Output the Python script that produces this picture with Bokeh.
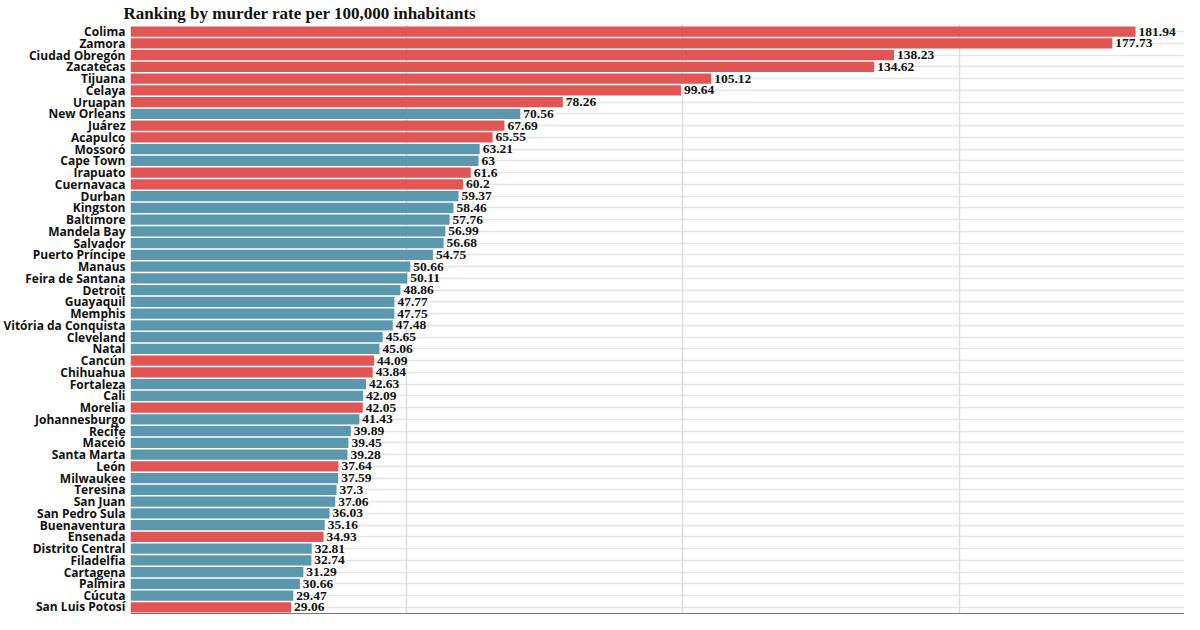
from bokeh.plotting import figure
from bokeh.models import ColumnDataSource, Range1d, FixedTicker, Grid, Span
from bokeh.core.properties import value
from bokeh.embed import file_html
from bokeh.resources import INLINE

cities = ["Colima", "Zamora", "Ciudad Obregón", "Zacatecas", "Tijuana", "Celaya", "Uruapan",
          "New Orleans", "Juárez", "Acapulco", "Mossoró", "Cape Town", "Irapuato", "Cuernavaca",
          "Durban", "Kingston", "Baltimore", "Mandela Bay", "Salvador", "Puerto Príncipe",
          "Manaus", "Feira de Santana", "Detroit", "Guayaquil", "Memphis", "Vitória da Conquista",
          "Cleveland", "Natal", "Cancún", "Chihuahua", "Fortaleza", "Cali", "Morelia",
          "Johannesburgo", "Recife", "Maceió", "Santa Marta", "León", "Milwaukee", "Teresina",
          "San Juan", "San Pedro Sula", "Buenaventura", "Ensenada", "Distrito Central",
          "Filadelfia", "Cartagena", "Palmira", "Cúcuta", "San Luis Potosí"]
rates = [181.94, 177.73, 138.23, 134.62, 105.12, 99.64, 78.26,
         70.56, 67.69, 65.55, 63.21, 63, 61.6, 60.2,
         59.37, 58.46, 57.76, 56.99, 56.68, 54.75,
         50.66, 50.11, 48.86, 47.77, 47.75, 47.48,
         45.65, 45.06, 44.09, 43.84, 42.63, 42.09, 42.05,
         41.43, 39.89, 39.45, 39.28, 37.64, 37.59, 37.3,
         37.06, 36.03, 35.16, 34.93, 32.81,
         32.74, 31.29, 30.66, 29.47, 29.06]
mexico = [1, 1, 1, 1, 1, 1, 1,
          0, 1, 1, 0, 0, 1, 1,
          0, 0, 0, 0, 0, 0,
          0, 0, 0, 0, 0, 0,
          0, 0, 1, 1, 0, 0, 1,
          0, 0, 0, 0, 1, 0, 0,
          0, 0, 0, 1, 0,
          0, 0, 0, 0, 1]
grid_ticks = [50, 100, 150]

RED = "#e15554"
BLUE = "#5b98ad"

src = ColumnDataSource(dict(
    city=cities,
    rate=rates,
    color=[RED if m else BLUE for m in mexico],
    label=[f"{v:g}" for v in rates],
))

p = figure(width=1184, height=614, y_range=list(reversed(cities)),
           x_range=Range1d(0, 190.8), output_backend="svg", toolbar_location=None,
           x_axis_location=None,
           title="Ranking by murder rate per 100,000 inhabitants",
           min_border_left=130, min_border_right=0, min_border_top=0, min_border_bottom=0)

p.title.text_font = "Liberation Serif"
p.title.text_font_size = "17px"
p.title.text_font_style = "bold"
p.title.text_color = "#111111"
p.title.offset = -7
p.title.standoff = 3

p.add_layout(Grid(dimension=0, ticker=FixedTicker(ticks=grid_ticks),
                  grid_line_color="#dddddd", grid_line_width=1.5), "center")

p.hbar(y="city", right="rate", left=0, height=0.88, color="color", source=src, line_color=None)
p.text(x="rate", y="city", text="label", source=src, x_offset=3,
       text_baseline="middle", text_align="left", text_font=value("Liberation Serif"),
       text_font_style="bold", text_font_size="13.5px", text_color="#111111")

p.add_layout(Span(location=-0.06, dimension="width", line_color="#777777", line_width=2))

p.yaxis.axis_line_color = None
p.yaxis.major_tick_line_color = None
p.yaxis.minor_tick_line_color = None
p.yaxis.major_tick_out = 0
p.yaxis.major_tick_in = 0
p.yaxis.minor_tick_out = 0
p.yaxis.major_label_text_font = "Open Sans"
p.yaxis.major_label_text_font_style = "bold"
p.yaxis.major_label_text_font_size = "12px"
p.yaxis.major_label_text_color = "#111111"
p.yaxis.major_label_standoff = 5

p.ygrid.grid_line_color = "#e6e6e6"
p.ygrid.grid_line_width = 1.5
p.outline_line_color = None
p.y_range.range_padding = 0.004

open("out.html", "w").write(file_html(p, INLINE))
